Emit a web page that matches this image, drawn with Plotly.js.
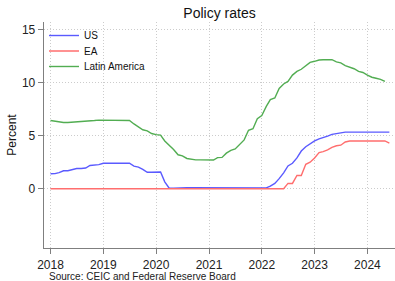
<!DOCTYPE html>
<html><head><meta charset="utf-8">
<script src="https://cdn.plot.ly/plotly-3.0.1.min.js"></script>
<style>html,body{margin:0;padding:0;background:#fff}#chart{width:395px;height:281px}</style>
</head><body><div id="chart"></div>
<script>
// Monthly observations, Jan 2018 onward
const startYear = 2018;
const seriesNames = ["US", "EA", "Latin America"];
const usRate = [
  1.41,1.42,1.51,1.69,1.70,1.82,1.91,1.91,1.95,2.19,2.20,2.27,
  2.40,2.40,2.41,2.42,2.39,2.38,2.40,2.13,2.04,1.83,1.55,1.55,
  1.55,1.58,0.65,0.05,0.05,0.08,0.09,0.10,0.09,0.09,0.09,0.09,
  0.09,0.08,0.07,0.07,0.06,0.08,0.10,0.09,0.08,0.08,0.08,0.08,
  0.08,0.08,0.25,0.50,0.95,1.50,2.15,2.40,2.90,3.55,3.95,4.25,
  4.50,4.70,4.80,4.95,5.12,5.20,5.30,5.33,5.33,5.33,5.33,5.33,
  5.33,5.33,5.33,5.33,5.33,5.33
];
const eaRate = [
  0,0,0,0,0,0,0,0,0,0,0,0,
  0,0,0,0,0,0,0,0,0,0,0,0,
  0,0,0,0,0,0,0,0,0,0,0,0,
  0,0,0,0,0,0,0,0,0,0,0,0,
  0,0,0,0,0,0,0.50,0.50,1.25,1.25,2.30,2.50,
  2.90,3.40,3.50,3.65,3.90,4.05,4.10,4.40,4.50,4.50,4.50,4.50,
  4.50,4.50,4.50,4.50,4.50,4.30
];
const latamRate = [
  6.42,6.35,6.28,6.24,6.24,6.26,6.28,6.30,6.32,6.36,6.42,6.46,
  6.46,6.46,6.46,6.46,6.46,6.44,6.42,6.10,5.80,5.55,5.45,5.20,
  5.10,5.05,4.50,4.10,3.70,3.20,3.10,2.85,2.75,2.72,2.72,2.72,
  2.72,2.70,2.93,2.95,3.35,3.62,3.75,4.15,4.60,5.50,5.65,6.60,
  6.90,7.75,8.40,8.55,9.45,9.86,10.10,10.70,11.05,11.25,11.60,11.90,
  12.00,12.12,12.15,12.15,12.15,11.95,11.85,11.60,11.45,11.30,11.05,10.95,
  10.70,10.50,10.40,10.30,10.10
];
const yTickVals = [0, 5, 10, 15];
const yTickText = ["0", "5", "10", "15"];
const xTickVals = ["2018-01-01","2019-01-01","2020-01-01","2021-01-01","2022-01-01","2023-01-01","2024-01-01"];
const xTickText = ["2018","2019","2020","2021","2022","2023","2024"];
const titleText = "Policy rates";
const yTitle = "Percent";
const sourceText = "Source: CEIC and Federal Reserve Board";

function monthDates(n) {
  const out = [];
  for (let i = 0; i < n; i++) {
    const y = startYear + Math.floor(i / 12);
    const m = (i % 12) + 1;
    out.push(y + "-" + (m < 10 ? "0" + m : m) + "-01");
  }
  return out;
}

const font = "Liberation Sans, Arial, sans-serif";
const colors = ["#5a5aff", "#ff6e6e", "#52ad52"];
const legendIds = ["legend", "legend2", "legend3"];
const legendY = [1.0044, 0.9359, 0.8673];
const vals = [usRate, eaRate, latamRate];
const traces = vals.map((v, k) => ({
  type: "scatter", mode: "lines",
  x: monthDates(v.length), y: v,
  name: seriesNames[k],
  legend: legendIds[k],
  line: {color: colors[k], width: 1.4},
  hoverinfo: "skip"
}));

const layout = {
  width: 395, height: 281,
  margin: {l: 44, r: 0, t: 22, b: 33},
  paper_bgcolor: "#ffffff", plot_bgcolor: "#ffffff",
  font: {family: font, size: 12, color: "#222222"},
  title: {text: titleText, font: {family: font, size: 14, color: "#111111"},
          x: 0.5, xref: "paper", xanchor: "center", y: 0.954, yref: "container", yanchor: "middle"},
  showlegend: true,
  xaxis: {
    type: "date", range: ["2017-11-17", "2024-07-10"],
    tickvals: xTickVals, ticktext: xTickText,
    showgrid: true, gridcolor: "#cccccc", griddash: "1px,2px", gridwidth: 1,
    showline: true, linecolor: "#7f7f7f", linewidth: 1.3,
    ticks: "outside", ticklen: 5, tickcolor: "#7f7f7f",
    tickfont: {family: font, size: 12, color: "#222222"},
    zeroline: false, fixedrange: true
  },
  yaxis: {
    range: [-5.58, 15.7],
    tickvals: yTickVals, ticktext: yTickText,
    showgrid: true, gridcolor: "#cccccc", griddash: "1px,2px", gridwidth: 1,
    showline: true, linecolor: "#7f7f7f", linewidth: 1.3,
    ticks: "outside", ticklen: 5, tickcolor: "#7f7f7f",
    tickfont: {family: font, size: 12, color: "#222222"},
    zeroline: false, fixedrange: true,
    title: {text: yTitle, font: {family: font, size: 12, color: "#111111"}, standoff: 2}
  },
  annotations: [{
    text: sourceText, xref: "paper", yref: "paper", x: 0.008, y: -0.127,
    xanchor: "left", yanchor: "middle", showarrow: false,
    font: {family: font, size: 10, color: "#222222"}
  }]
};
legendIds.forEach((id, k) => {
  layout[id] = {x: 0, xanchor: "left", y: legendY[k], yanchor: "top",
                bgcolor: "rgba(0,0,0,0)", borderwidth: 0,
                font: {family: font, size: 10, color: "#111111"}};
});

Plotly.newPlot("chart", traces, layout, {displayModeBar: false, staticPlot: true});
</script></body></html>
